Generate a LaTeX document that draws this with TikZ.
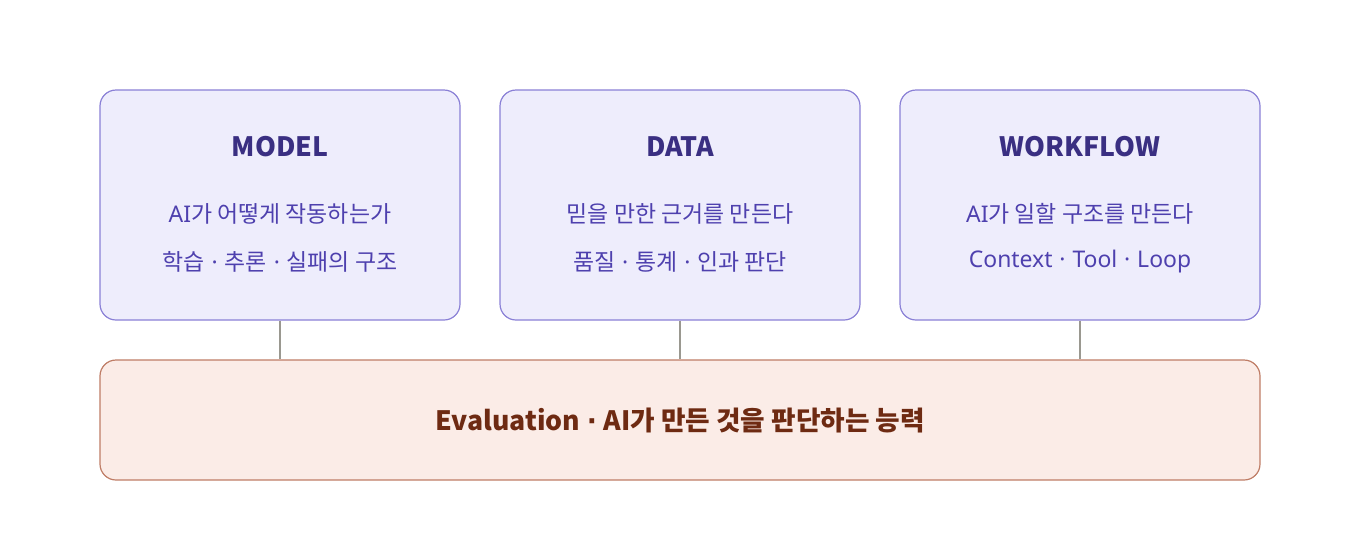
\documentclass[tikz,border=0pt]{standalone}
\usepackage{fontspec}
\setmainfont{Noto Sans CJK KR}
\newfontfamily\latf{Noto Sans}
\newfontfamily\dotf{DejaVu Sans}
\newcommand{\dotsep}{\hspace{0.3em}{\latf·}\hspace{0.3em}}
\newcommand{\bdotsep}{\hspace{0.25em}{\dotf\bfseries·}\hspace{0.25em}}
\definecolor{boxfill}{HTML}{EEEDFC}
\definecolor{boxline}{HTML}{8A80D6}
\definecolor{titlec}{HTML}{3A2F82}
\definecolor{bodyc}{HTML}{4E40AE}
\definecolor{evfill}{HTML}{FBECE7}
\definecolor{evline}{HTML}{BF7D66}
\definecolor{evtext}{HTML}{6E2A12}
\definecolor{connc}{HTML}{9A9890}
\tikzset{
  topbox/.style={draw=boxline, fill=boxfill, line width=0.9pt, rounded corners=12pt,
    minimum width=270pt, minimum height=172.5pt, inner sep=0pt},
  evbox/.style={draw=evline, fill=evfill, line width=0.9pt, rounded corners=12pt,
    minimum width=870pt, minimum height=90pt, inner sep=0pt},
  titletext/.style={font=\fontsize{20pt}{22pt}\selectfont\bfseries, text=titlec, inner sep=0pt},
  bodytext/.style={font=\fontsize{17.2pt}{20pt}\selectfont, text=bodyc, inner sep=0pt},
  evtxt/.style={font=\fontsize{20pt}{22pt}\selectfont\bfseries, text=evtext, inner sep=0pt},
  conn/.style={draw=connc, line width=2pt}
}
\begin{document}
\begin{tikzpicture}[x=0.75pt, y=-0.75pt]
\useasboundingbox (0,0) rectangle (1360,540);
\node[topbox] (m) at (280,205) {};
\node[topbox] (d) at (680,205) {};
\node[topbox] (w) at (1080,205) {};
\node[evbox] (ev) at (680,420) {};
\draw[conn] (m.south) -- (m.south |- ev.north);
\draw[conn] (d.south) -- (d.south |- ev.north);
\draw[conn] (w.south) -- (w.south |- ev.north);
\node[titletext] (mt) at (280,147) {MODEL};
\node[bodytext] (m1) at (280,214) {{\latf AI}가 어떻게 작동하는가};
\node[bodytext] (m2) at (280,262) {학습\dotsep 추론\dotsep 실패의 구조};
\node[titletext] (dt) at (680,147) {DATA};
\node[bodytext] (d1) at (680,214) {믿을 만한 근거를 만든다};
\node[bodytext] (d2) at (680,262) {품질\dotsep 통계\dotsep 인과 판단};
\node[titletext] (wt) at (1080,147) {WORKFLOW};
\node[bodytext] (w1) at (1080,214) {{\latf AI}가 일할 구조를 만든다};
\node[bodytext] (w2) at (1080,262) {\latf Context\dotsep Tool\dotsep Loop};
\node[evtxt] (et) at (680,420) {Evaluation\bdotsep AI가 만든 것을 판단하는 능력};
\end{tikzpicture}
\end{document}
